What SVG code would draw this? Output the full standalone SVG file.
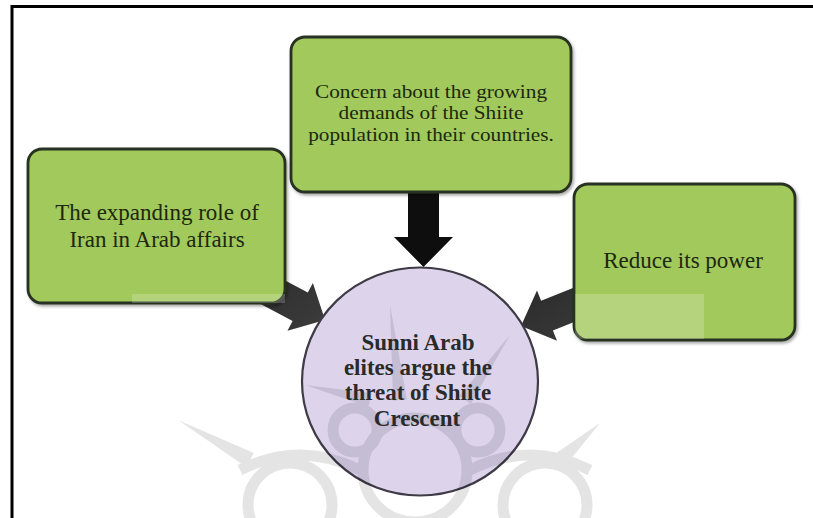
<svg xmlns="http://www.w3.org/2000/svg" width="813" height="518" viewBox="0 0 813 518">
<defs>
<style>
.box{fill:#a2c95c;stroke:#283020;stroke-width:2.8}
.btxt{font-family:"Liberation Serif","Times New Roman",serif;fill:#1c2810;text-anchor:middle}
.ctxt{font-family:"Liberation Serif","Times New Roman",serif;font-weight:bold;font-size:23px;fill:#2a2a2a;text-anchor:middle}
.orn{fill:none;stroke:#000;stroke-width:11}
</style>
<filter id="sh" x="-10%" y="-10%" width="120%" height="120%">
<feDropShadow dx="1.5" dy="2" stdDeviation="1.5" flood-color="#000" flood-opacity="0.35"/>
</filter>
<linearGradient id="ga" x1="0" y1="0" x2="1" y2="1">
<stop offset="0" stop-color="#2a2a2a"/>
<stop offset="1" stop-color="#3c3c3c"/>
</linearGradient>
</defs>
<rect width="813" height="518" fill="#ffffff"/>
<path d="M12,518 V6.5 H813" fill="none" stroke="#000" stroke-width="3"/>

<g id="connectors">
<polygon id="arrow-top" points="408,190 439,190 439,237 453,237 423.5,267 394,237 408,237" fill="#0e0e0e"/>
<polygon id="arrow-left" points="254.6,264.3 307.8,292.6 312.9,282.9 325,320 287.5,330.8 292.6,321 239.5,292.7" fill="url(#ga)"/>
<polygon id="arrow-right" points="606.1,274.8 541.1,300.7 537,290.5 521,326 557,340.7 552.9,330.5 617.9,304.6" fill="url(#ga)"/>
</g>

<g id="node-top">
<rect class="box" x="291" y="37" width="280" height="155" rx="14" filter="url(#sh)"/>
<text class="btxt" font-size="19" transform="translate(431,0) scale(1.12,1) translate(-431,0)"><tspan x="431" y="98">Concern about the growing</tspan><tspan x="431" y="119.5">demands of the Shiite</tspan><tspan x="431" y="141">population in their countries.</tspan></text>
</g>

<g id="node-left">
<rect class="box" x="28" y="149" width="257" height="154" rx="14" filter="url(#sh)"/>
<text class="btxt" font-size="23"><tspan x="157" y="220">The expanding role of</tspan><tspan x="157" y="247">Iran in Arab affairs</tspan></text>
</g>

<g id="node-right">
<rect class="box" x="574" y="184" width="221" height="156" rx="14" filter="url(#sh)"/>
<text class="btxt" font-size="23"><tspan x="683" y="268">Reduce its power</tspan></text>
</g>

<g id="node-center">
<ellipse cx="420" cy="381.5" rx="118" ry="114" fill="#ddd4ec" stroke="#3e3a46" stroke-width="2.2"/>
</g>

<g id="watermark" opacity="0.1">
<polygon points="390,305 406.96,399.26 393.04,400.74" fill="#000"/>
<polygon points="510,335 470.76,403.99 459.24,396.01" fill="#000"/>
<polygon points="305,385 371.58,393.18 368.42,406.82" fill="#000"/>
<polygon points="178,420 253.88,453.01 246.12,466.99" fill="#000"/>
<polygon points="600,423 565.43,465.87 554.57,454.13" fill="#000"/>
<circle class="orn" cx="415" cy="470" r="52"/>
<circle class="orn" cx="290" cy="505" r="42"/>
<circle class="orn" cx="545" cy="505" r="42"/>
<circle class="orn" cx="355" cy="430" r="22"/>
<circle class="orn" cx="478" cy="430" r="22"/>
<path class="orn" d="M240,470 Q300,440 360,470 M470,470 Q530,440 590,470"/>
</g>

<rect x="132" y="294" width="153" height="9" fill="#fff" opacity="0.2"/>
<rect x="575" y="294" width="129" height="45" fill="#fff" opacity="0.2"/>

<g id="center-label">
<text class="ctxt"><tspan x="418" y="350">Sunni Arab</tspan><tspan x="418" y="375">elites argue the</tspan><tspan x="418" y="400">threat of Shiite</tspan><tspan x="417" y="426">Crescent</tspan></text>
</g>
</svg>
